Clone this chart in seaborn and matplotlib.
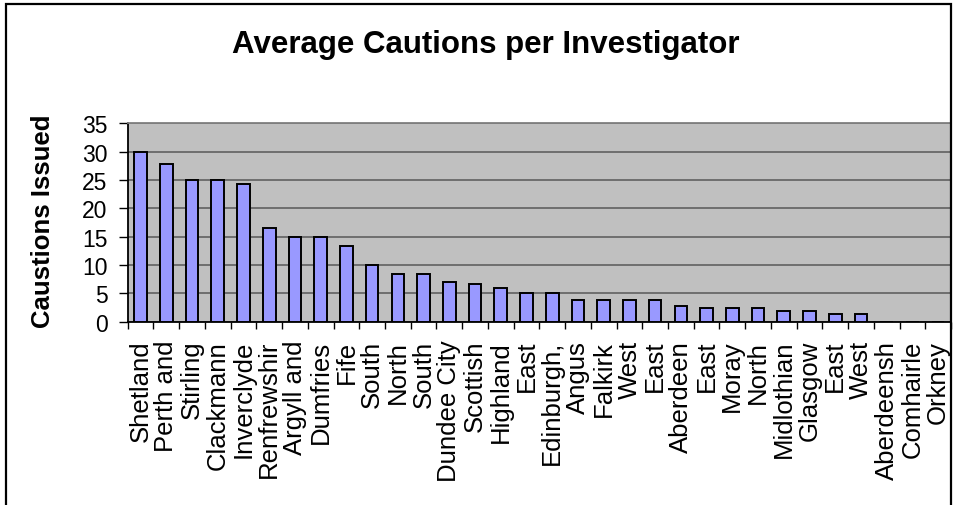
import matplotlib
matplotlib.use("Agg")
import matplotlib.pyplot as plt
from matplotlib.patches import Rectangle
from matplotlib.ticker import FixedLocator
import pandas as pd
import seaborn as sns

# Council areas, in descending order of cautions per investigator
areas = [
    "Shetland", "Perth and", "Stirling", "Clackmann", "Inverclyde",
    "Renfrewshir", "Argyll and", "Dumfries", "Fife", "South", "North",
    "South", "Dundee City", "Scottish", "Highland", "East", "Edinburgh,",
    "Angus", "Falkirk", "West", "East", "Aberdeen", "East", "Moray",
    "North", "Midlothian", "Glasgow", "East", "West", "Aberdeensh",
    "Comhairle", "Orkney",
]
cautions = [
    30.0, 27.9, 25.0, 25.0, 24.3, 16.6, 15.0, 15.0, 13.4, 10.0, 8.5,
    8.5, 7.0, 6.7, 6.0, 5.0, 5.0, 3.9, 3.9, 3.9, 3.9, 2.8, 2.5, 2.5,
    2.5, 1.8, 1.8, 1.4, 1.4, 0.0, 0.0, 0.0,
]
y_ticks = [0, 5, 10, 15, 20, 25, 30, 35]

sns.set_theme(style="white")
plt.rcParams["font.family"] = ["Liberation Sans", "DejaVu Sans"]
plt.rcParams.update({"text.color": "black", "axes.labelcolor": "black",
                     "xtick.color": "black", "ytick.color": "black"})

W, H, DPI = 957, 506, 100
fig = plt.figure(figsize=(W / DPI, H / DPI), dpi=DPI)

# plot area in pixel coordinates
left_px, right_px, top_px, bottom_px = 127.7, 951, 124.3, 322.7
ax = fig.add_axes([left_px / W, 1 - bottom_px / H,
                   (right_px - left_px) / W, (bottom_px - top_px) / H])
ax.set_facecolor("#C0C0C0")

# duplicate names exist, so bars are positioned by index
df = pd.DataFrame({"pos": range(len(areas)), "value": cautions})
sns.barplot(data=df, x="pos", y="value", ax=ax, color="#9999FF",
            saturation=1, edgecolor="black", linewidth=1.4, width=0.49,
            errorbar=None, zorder=3)

ax.set_xlim(-0.5, len(areas) - 0.5)
ax.set_ylim(0, 35)
ax.set_yticks(y_ticks)
ax.set_yticklabels([str(t) for t in y_ticks], fontsize=16.5)
ax.set_xticks(range(len(areas)))
ax.set_xticklabels(areas, rotation=90, fontsize=18.5)
ax.xaxis.set_minor_locator(FixedLocator([i - 0.5 for i in range(len(areas) + 1)]))
ax.tick_params(axis="x", which="major", length=0, pad=13)
ax.tick_params(axis="x", which="minor", bottom=True, length=5,
               width=1, color="black", direction="out")
ax.tick_params(axis="y", which="major", left=True, length=6.5, width=1,
               color="black", direction="out", pad=8)

ax.yaxis.grid(True, color="#585858", linewidth=1.1, zorder=1)
ax.set_axisbelow(True)
ax.set_xlabel("")
ax.set_ylabel("Caustions Issued", fontsize=18.5, fontweight="bold")
ax.yaxis.set_label_coords(-0.0883, 0.51)

for side in ("left", "bottom"):
    ax.spines[side].set_color("black")
    ax.spines[side].set_linewidth(1.3)
for side in ("top", "right"):
    ax.spines[side].set_color("#808080")
    ax.spines[side].set_linewidth(1.3)
    ax.spines[side].set_visible(True)

fig.text(486 / W, 1 - 53 / H, "Average Cautions per Investigator",
         ha="center", va="baseline", fontsize=22.5, fontweight="bold")

# chart frame
fig.patches.append(Rectangle((6 / W, -0.05), (951 - 6) / W, 1.05 - 4.5 / H,
                             transform=fig.transFigure, fill=False,
                             edgecolor="black", linewidth=1.6, zorder=0))

fig.savefig("out.png", dpi=DPI, facecolor="white")
